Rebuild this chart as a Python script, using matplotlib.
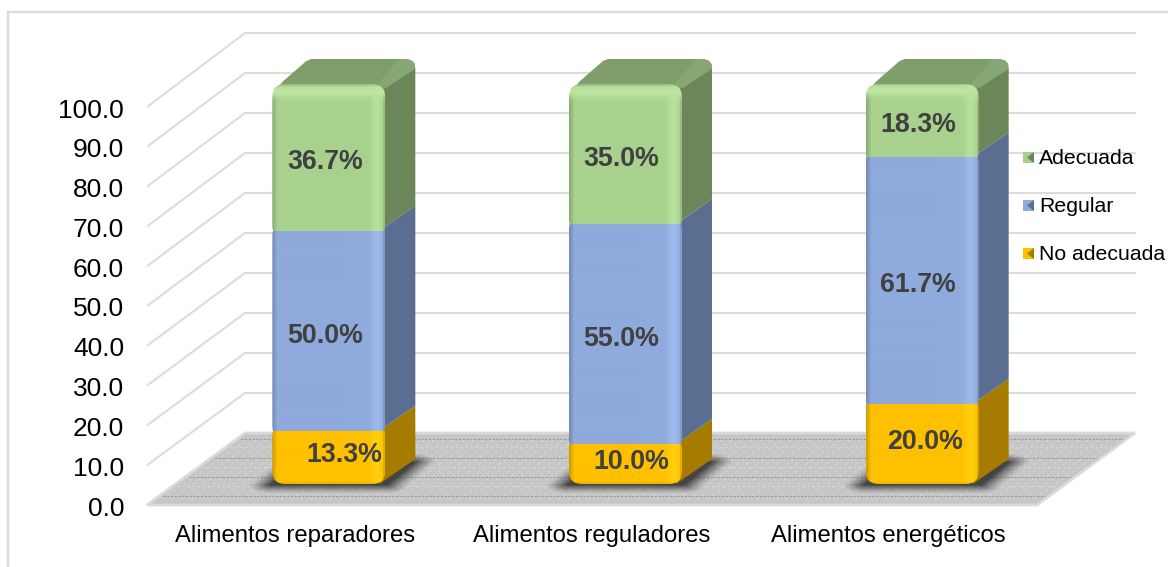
import numpy as np
import matplotlib
matplotlib.use('Agg')
import matplotlib.pyplot as plt
from matplotlib.patches import Polygon, FancyBboxPatch, Rectangle
from matplotlib.colors import to_rgb
from matplotlib.transforms import ScaledTranslation

plt.rcParams['font.family'] = ['Liberation Sans', 'DejaVu Sans']

# Data
categories = ['Alimentos reparadores', 'Alimentos reguladores', 'Alimentos energéticos']
series_names = ['No adecuada', 'Regular', 'Adecuada']
no_adecuada = [13.3, 10.0, 20.0]
regular = [50.0, 55.0, 61.7]
adecuada = [36.7, 35.0, 18.3]
y_ticks = [0, 10, 20, 30, 40, 50, 60, 70, 80, 90, 100]

# front, side, top colours for each series
front_cols = ['#FFC000', '#8FAADC', '#A9D18E']
side_cols = ['#A67C00', '#5A6E91', '#6C8659']
top_col = '#7F9E6A'
top_light = '#86A673'

W, H = 1168, 567
fig = plt.figure(figsize=(W / 100, H / 100), dpi=100)
fig.patch.set_facecolor('white')

# plot area: front plane at y=0..100, limits leave room for the depth of the chart
left, right, bottom, top = 147, 1037, 505, 107
ux = (right - left) / 3
uy = (bottom - top) / 100
xmax, ymax = 3.4, 125
ax = fig.add_axes([left / W, 1 - bottom / H, xmax * ux / W, ymax * uy / H])
ax.set_xlim(0, xmax)
ax.set_ylim(0, ymax)
ax.patch.set_visible(False)
for s in ax.spines.values():
    s.set_visible(False)

DX, DY = 98 / ux, 72 / uy          # depth of the whole chart
back_scale = 400 / 398
bar_scale = 400 / 398
bar_w = 113 / ux
bar_dx, bar_dy = 30 / ux, 25 / uy  # depth of one bar
off_x, off_y = 33.5 / ux, 21 / uy  # bar front plane shift

# frame
for xs, ys in [([8, 8], [12, 567]), ([8, 1168], [12, 12])]:
    fig.add_artist(plt.Line2D(np.array(xs) / W, 1 - np.array(ys) / H, color='#D9D9D9', lw=1.6))

# grid lines on walls
for v in y_ticks[1:]:
    ax.plot([0, DX, 3 + DX], [v, v * back_scale + DY, v * back_scale + DY], color='#DCDCDC', lw=1.5, zorder=1)

# floor
ax.add_patch(Polygon([(0, 0), (3, 0), (3 + DX, DY), (DX, DY)], closed=True, fc='#C6C6C6', ec='#DADADA',
                     lw=2, zorder=2, clip_on=False))
for py in [439, 458, 477, 496]:
    f = (505 - py) / 72
    ax.plot([DX * f + 4 / ux, 3 + DX * f - 4 / ux], [DY * f, DY * f], color='#8C8C94', lw=0.6,
            ls=(0, (2.5, 2)), zorder=2.1)
for py in [447, 467, 486]:
    f = (505 - py) / 72
    ax.plot([DX * f + 4 / ux, 3 + DX * f - 4 / ux], [DY * f, DY * f], color='#DDDDDD', lw=0.6,
            ls=(0, (3, 3)), zorder=2.1)
for f in np.linspace(0.01, 0.99, 89):
    ax.plot([3 * f + 0.02, 3 * f + DX - 0.02], [1.5, DY - 1.5], color='#DEDEDE', lw=0.6,
            ls=(0, (3, 5)), zorder=2.1)


def floor_shadow(x0, x1, y0, y1, shear, z):
    # soft skewed shadow: alpha falls off with the distance from a sheared box
    pad_x, pad_y = 22 / ux, 9 / uy
    xs = np.linspace(x0 - pad_x, x1 + shear * (y1 - y0) + pad_x, 260)
    ys = np.linspace(y0 - pad_y, y1 + pad_y, 80)
    gx, gy = np.meshgrid(xs, ys)
    sx = gx - shear * (np.clip(gy, y0, y1) - y0)
    dx = np.maximum(np.maximum(x0 - sx, sx - x1), 0) / pad_x
    dy = np.maximum(np.maximum(y0 - gy, gy - y1), 0) / pad_y
    alpha = np.clip(1 - np.hypot(dx, dy), 0, 1) ** 1.3 * 0.8
    img = np.zeros((80, 260, 4))
    img[..., :3] = 0.14
    img[..., 3] = alpha
    ax.imshow(img, extent=[xs[0], xs[-1], ys[0], ys[-1]], origin='lower', aspect='auto', zorder=z)


def front_face(col, x0, x1, y0, y1, round_top, round_bottom, z):
    # front face with bevel shading, clipped to a rounded box
    rgb = np.array(to_rgb(col))
    nx, ny = 113, max(int((y1 - y0) * uy), 2)
    px = np.arange(nx)
    edge = np.clip(1 - px / 5, 0, 1)
    band = np.exp(-((px - 104) / 5.5) ** 2)
    img = np.ones((ny, nx, 3)) * rgb
    img = img * (1 - 0.18 * edge)[None, :, None]
    img = img + (np.clip(rgb + 0.06, 0, 1) - rgb) * band[None, :, None]
    img = img * (1 - 0.10 * np.clip(px - 110, 0, 1))[None, :, None]
    if round_top:
        py = np.arange(ny)
        glow = np.exp(-((py - 7) / 6) ** 2)[:, None, None]
        img = img + (np.clip(rgb + 0.08, 0, 1) - img) * glow
        img[:2] = img[:2] * 0.9
    if round_bottom:
        img[-2:] = img[-2:] * 0.94
    img = np.clip(img, 0, 1)
    im = ax.imshow(img, extent=[x0, x1, y0, y1], aspect='auto', zorder=z, interpolation='bilinear')
    r = 13 / ux
    ext_top = 0 if round_top else 8 / uy
    ext_bot = 0 if round_bottom else 8 / uy
    clip = FancyBboxPatch((x0, y0 - ext_bot), x1 - x0, y1 - y0 + ext_bot + ext_top,
                          boxstyle=f'round,pad=0,rounding_size={r}', mutation_aspect=ux / uy,
                          transform=ax.transData, fc='none', ec='none')
    ax.add_patch(clip)
    im.set_clip_path(clip)


# label offsets inside each segment, in pixels
label_shift = [[15, -4, -4], [6, -4, -4], [3, -4, -4]]
label_lift = [0.5, -1.2, -1.2]

for i, cat in enumerate(categories):
    x0 = i + off_x + 0.5 - bar_w / 2
    x1 = x0 + bar_w
    vals = [no_adecuada[i], regular[i], adecuada[i]]

    floor_shadow(x0 - 2 / ux, x1 + 2 / ux, off_y - 1 / uy, off_y + 22 / uy, 1.2 * uy / ux, 2.5)

    base = 0
    for j, v in enumerate(vals):
        y0 = off_y + base * bar_scale
        y1 = off_y + (base + v) * bar_scale
        # side of the bar
        top_cut = 9 / uy if j == 2 else 0
        ax.add_patch(Polygon([(x1 - 6 / ux, y0), (x1 + bar_dx, y0 + bar_dy), (x1 + bar_dx, y1 + bar_dy - top_cut),
                              (x1 - 6 / ux, y1)], closed=True, fc=side_cols[j], ec='none', zorder=3))
        front_face(front_cols[j], x0, x1, y0, y1, j == 2, j == 0, 4 + j * 0.1)
        ax.text((x0 + x1) / 2 + label_shift[i][j] / ux, (y0 + y1) / 2 + label_lift[j], f'{v:.1f}%',
                ha='center', va='center', fontsize=19.3, fontweight='bold', color='#404040', zorder=6)
        base += v

    # top of the bar, corners cut in small steps to look rounded
    yt = off_y + base * bar_scale
    yb = yt + bar_dy
    xb = x1 + bar_dx
    ax.add_patch(Polygon([(x0 + 3 / ux, yt - 6 / uy), (x0 + 11 / ux, yt + 3 / uy), (x0 + bar_dx + 4 / ux, yb - 2 / uy),
                          (x0 + bar_dx + 9 / ux, yb), (xb - 8 / ux, yb), (xb - 3 / ux, yb - 2 / uy),
                          (xb - 0.5 / ux, yb - 5 / uy), (xb, yb - 10 / uy), (x1 - 4 / ux, yt - 6 / uy)],
                         closed=True, fc=top_col, ec='none', zorder=3.5))
    ax.add_patch(Polygon([(x1 - 8 / ux, yt), (xb - 16 / ux, yb), (xb - 8 / ux, yb), (xb - 3 / ux, yb - 2 / uy),
                          (xb - 0.5 / ux, yb - 5 / uy), (xb - 1 / ux, yb - 10 / uy), (x1 + 1 / ux, yt - 4 / uy)],
                         closed=True, fc=top_light, ec='none', zorder=3.6))

ax.set_yticks(y_ticks)
ax.set_yticklabels([f'{v:.1f}' for v in y_ticks], fontsize=19, color='black')
ax.set_xticks([0.5, 1.5, 2.5])
ax.set_xticklabels(categories, fontsize=17.2, color='black')
ax.tick_params(axis='both', length=0)
ax.tick_params(axis='y', pad=16.5)
ax.tick_params(axis='x', pad=14.5)
for t in ax.get_yticklabels():
    t.set_transform(t.get_transform() + ScaledTranslation(0, -1 / 100, fig.dpi_scale_trans))

# legend
leg_y = [157, 205, 253]
for name, yp, c, s in zip(series_names[::-1], leg_y, front_cols[::-1], side_cols[::-1]):
    x_l, y_b = 1023, yp + 6
    fig.patches.append(Rectangle((x_l / W, 1 - y_b / H), 11 / W, 11 / H, transform=fig.transFigure, fc=c, ec='none'))
    fig.patches.append(Polygon([((x_l + 11) / W, 1 - y_b / H), ((x_l + 11) / W, 1 - (y_b - 11) / H),
                                ((x_l + 4) / W, 1 - (y_b - 5.5) / H)], closed=True,
                               transform=fig.transFigure, fc=s, ec='none'))
    fig.text(1039 / W, 1 - (yp + 1.5) / H, name, fontsize=15.3, va='center', ha='left', color='black')

fig.savefig('out.png', dpi=100)
